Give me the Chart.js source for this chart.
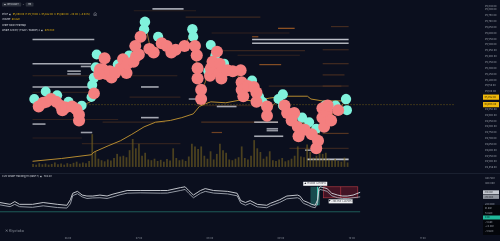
<!DOCTYPE html>
<html>
<head>
<meta charset="utf-8">
<title>Whale Activity</title>
<script src="https://cdn.jsdelivr.net/npm/chart.js@4.4.1/dist/chart.umd.min.js"></script>
<style>
  html, body { margin: 0; padding: 0; background: #0b0f1e; overflow: hidden; }
  #wrap { position: relative; width: 500px; height: 241px; background: #0b0f1e; font-family: Inter, "Noto Sans", sans-serif; }
  canvas { position: absolute; left: 0; }
  #main { top: 0; }
  #lower { top: 174px; }
  .sep { position: absolute; left: 0; top: 173px; width: 500px; height: 1px; background: #1a2030; }
  .t { position: absolute; transform: scale(0.3); transform-origin: 0 0; font-size: 8px; line-height: 10px; color: #d4d7de; white-space: nowrap; }
  .y { color: #f0b90b; }
  .chip { background: #2a2f3b; border-radius: 3px; padding: 2px 8px; }
</style>
</head>
<body>
<div id="wrap">
  <canvas id="main" width="500" height="173"></canvas>
  <div class="sep"></div>
  <canvas id="lower" width="500" height="67"></canvas>

  <div class="t" style="left:2px;top:2.6px"><span class="chip">▣ BTCUSDT</span> &nbsp;⌄&nbsp; <span class="chip">1m</span></div>
  <div class="t" style="left:2px;top:12.6px">Price &nbsp;◉&nbsp; <span class="y">95,090.00 &nbsp;H 95,111.00 &nbsp;L 95,022.00 &nbsp;C 95,060.00 &nbsp;−30.00 &nbsp;(−0.03%)</span> &nbsp; &nbsp; ⊗</div>
  <div class="t" style="left:2px;top:18.2px">Volume &nbsp;<span class="y">60.62K</span></div>
  <div class="t" style="left:2px;top:23.6px">Order Book Heatmap</div>
  <div class="t" style="left:2px;top:29.2px">Whale Activity (TWAP / Bubble) 2 &nbsp;◉&nbsp; <span class="y">670.84K</span></div>
  <div class="t" style="left:2px;top:175px">CVD Whale Tracking 1H (base 7) &nbsp;◉&nbsp; 704.4K</div>
  <div class="t" style="left:5px;top:228.5px;font-size:12px;color:#8c919c">✕ Kiyotaka</div>
</div>

<script>
// time axis is minutes after 05:00
const buyTimes = [4.2, 15.2, 26.2, 37.2, 49.9, 59.2, 60.0, 61.7, 63.4, 64.3, 84.6, 95.6, 110.0, 110.8, 123.5, 156.5, 157.3, 171.7, 174.2, 178.5, 187.0, 214.0, 220.8, 224.2, 239.4, 243.6, 243.6, 262.2, 269.0, 275.8, 284.2, 294.4, 304.5, 305.4];
const buyPrices = [95036, 95100, 95068, 95012, 94980, 95052, 95155, 95219, 95306, 95417, 95330, 95409, 95632, 95695, 95568, 95632, 95568, 95274, 95497, 95409, 95338, 95195, 95052, 95012, 95036, 95076, 94980, 94877, 94838, 94782, 94980, 94980, 95036, 94941];
const buySizes = [520, 480, 540, 500, 470, 450, 510, 560, 530, 490, 520, 500, 550, 600, 540, 580, 520, 480, 500, 470, 520, 490, 510, 470, 500, 540, 480, 520, 500, 490, 510, 520, 560, 500];

const sellTimes = [8.4, 12.7, 16.0, 20.3, 25.3, 29.6, 31.3, 34.7, 40.6, 44.8, 47.3, 47.3, 61.7, 67.6, 66.8, 70.2, 71.9, 73.6, 77.0, 78.6, 82.0, 87.1, 89.6, 93.0, 93.9, 99.8, 102.3, 104.9, 101.5, 106.6, 115.0, 119.2, 126.9, 131.9, 136.2, 140.4, 148.9, 159.0, 160.7, 161.5, 161.5, 164.9, 164.9, 173.4, 174.2, 175.9, 180.2, 182.7, 182.7, 184.4, 190.3, 195.4, 203.0, 203.9, 203.9, 205.5, 209.8, 215.7, 218.2, 218.2, 228.4, 228.4, 245.3, 247.8, 254.6, 252.1, 258.0, 258.8, 264.8, 271.5, 277.5, 275.8, 281.7, 281.7, 283.4, 285.9, 286.8, 290.1, 296.9];
const sellPrices = [94972, 95004, 95012, 95036, 95012, 94980, 94941, 94965, 94972, 94949, 94901, 94853, 95084, 95290, 95250, 95290, 95385, 95250, 95274, 95219, 95258, 95298, 95377, 95258, 95338, 95354, 95401, 95417, 95489, 95568, 95465, 95433, 95512, 95489, 95433, 95457, 95489, 95489, 95409, 95298, 95211, 95115, 95036, 95235, 95298, 95354, 95441, 95338, 95258, 95211, 95282, 95274, 95282, 95179, 95115, 95060, 95147, 95139, 95092, 95012, 94972, 94893, 94980, 94917, 94917, 94853, 94798, 94718, 94774, 94734, 94679, 94615, 94957, 94877, 94798, 94925, 94980, 94853, 94941];
const sellSizes = [860, 900, 820, 880, 910, 870, 930, 850, 890, 900,
  880, 920, 860, 940, 900, 880, 910, 870, 900, 890,
  930, 880, 860, 920, 900, 870, 890, 910, 880, 900,
  870, 920, 890, 860, 900, 880, 910, 870, 930, 900,
  920, 880, 900, 870, 890, 910, 880, 900, 860, 920,
  890, 900, 880, 910, 870, 900, 890, 860, 920, 880,
  900, 870, 890, 910, 880, 900, 870, 930, 880, 900,
  910, 890, 880, 900, 870, 910, 880, 900, 890];

const priceTimes = [2.5, 10, 16, 22, 28, 33, 40, 46, 50, 55, 58, 60, 62, 64, 67, 72, 76, 82, 86, 90, 94, 98, 104, 108, 111, 116, 121, 125, 130, 136, 142, 149, 156, 158, 161, 164, 168, 172, 175, 180, 184, 188, 192, 198, 203, 205, 210, 215, 219, 224, 228, 234, 240, 244, 248, 254, 258, 262, 266, 270, 274, 276, 279, 282, 286, 290, 294, 298, 304, 307];
const priceValues = [95030, 95000, 95050, 95020, 95040, 94960, 94990, 94920, 94960, 95000, 95010, 95060, 95200, 95330, 95280, 95350, 95250, 95260, 95320, 95360, 95300, 95390, 95420, 95580, 95680, 95470, 95440, 95540, 95490, 95440, 95460, 95490, 95610, 95500, 95300, 95080, 95160, 95260, 95420, 95430, 95240, 95330, 95280, 95280, 95180, 95070, 95150, 95150, 95040, 95020, 94920, 94980, 95040, 95020, 94920, 94910, 94760, 94860, 94780, 94820, 94700, 94620, 94760, 94900, 94960, 94860, 94970, 94940, 95030, 94990];

const whaleTimes = [2.5, 30.4, 59.2, 61.7, 76.1, 87.1, 98.1, 109.9, 121.0, 135.3, 146.3, 157.3, 163.2, 169.2, 174.2, 188.6, 203.0, 216.5, 230.9, 245.3, 267.3, 270.7, 281.7, 307.1];
const whaleValues = [94504, 94528, 94560, 94583, 94639, 94679, 94734, 94798, 94838, 94853, 94877, 94909, 94972, 94996, 95012, 95004, 95028, 95020, 95044, 95060, 95060, 95036, 95020, 95020];

const volTimes = [3, 6, 9, 12, 15, 18, 21, 24, 27, 30, 33, 36, 39, 42, 45, 48, 51, 54, 57, 60, 63, 66, 69, 72, 75, 78, 81, 84, 87, 90, 93, 96, 99, 102, 105, 108, 111, 114, 117, 120, 123, 126, 129, 132, 135, 138, 141, 144, 147, 150, 153, 156, 159, 162, 165, 168, 171, 174, 177, 180, 183, 186, 189, 192, 195, 198, 201, 204, 207, 210, 213, 216, 219, 222, 225, 228, 231, 234, 237, 240, 243, 246, 249, 252, 255, 258, 261, 264, 267, 270, 273, 276, 279, 282, 285, 288, 291, 294, 297, 300, 303, 306];
const volValues = [8, 6, 10, 7, 9, 6, 8, 12, 7, 9, 6, 10, 8, 11, 14, 9, 12, 10, 16, 88, 40, 22, 18, 15, 20, 17, 24, 35, 28, 30, 26, 45, 75, 50, 62, 30, 38, 20, 18, 22, 16, 19, 14, 21, 17, 50, 24, 18, 20, 16, 28, 62, 55, 48, 55, 30, 22, 42, 20, 35, 62, 45, 38, 20, 18, 22, 26, 55, 24, 20, 30, 72, 50, 40, 22, 28, 42, 18, 16, 20, 24, 15, 18, 22, 30, 55, 28, 26, 60, 40, 25, 30, 55, 35, 38, 20, 18, 22, 16, 14, 25, 12];

// order book walls (large resting size)
const wallStart = [118, 214, 214, 2.5, 96, 2.5, 49, 36, 36, 2.5, 107, 107, 2.5, 49, 180, 216, 228, 228, 216, 265, 267, 153];
const wallEnd = [148, 307, 307, 62, 104, 59, 70, 49, 49, 57, 124, 124, 15, 60, 199, 239, 239, 239, 244, 273, 307, 161];
const wallPrice = [95806, 95544, 95512, 95544, 95489, 95338, 95314, 95274, 95250, 95139, 95139, 94877, 94822, 94750, 94972, 94838, 94782, 94766, 94718, 94599, 94520, 95036];
const wallDepth = [80, 90, 80, 70, 50, 70, 60, 60, 50, 70, 70, 70, 60, 60, 70, 60, 50, 50, 70, 50, 90, 40];

// heatmap bands
const heatStart = [150, 239, 214, 290, 184, 282, 282, 221, 2.5, 282, 282, 282, 165, 2.5, 96, 2.5, 70, 2.5, 50, 175, 230, 160, 250, 100, 200, 175];
const heatEnd = [222, 255, 220, 307, 265, 307, 307, 242, 142, 303, 307, 307, 239, 60, 145, 85, 130, 50, 145, 250, 300, 220, 307, 160, 260, 185];
const heatPrice = [95735, 95640, 95568, 95655, 95449, 95457, 95338, 95330, 95235, 95242, 95147, 94742, 94838, 95092, 95052, 94861, 94838, 94703, 94655, 95600, 95147, 94980, 94615, 95790, 95410, 94750];
const heatDepth = [24, 70, 60, 28, 22, 24, 28, 60, 20, 28, 24, 36, 32, 16, 18, 18, 20, 16, 18, 18, 20, 16, 22, 16, 18, 50];

const lastPrice = 94988;
const markPrice = 95052;

const cvdTimes = [2.5, 11, 15, 19, 30, 39, 51, 59, 62, 64, 68, 72, 76, 81, 87, 93, 98, 104, 110, 121, 138, 144, 155, 159, 162, 166, 172, 176, 183, 195, 203, 206, 210, 214, 220, 228, 231, 239, 245, 254, 256, 259, 263, 266, 269, 271, 272, 273, 276, 279, 283, 288, 292, 296, 301, 307];
const cvdFast = [217, 200, 226, 200, 200, 217, 200, 191, 243, 304, 322, 287, 278, 278, 287, 278, 296, 313, 330, 330, 330, 330, 357, 365, 330, 287, 330, 348, 330, 322, 304, 235, 217, 235, 200, 191, 209, 243, 278, 287, 278, 235, 217, 200, 191, 243, 348, 365, 357, 348, 304, 287, 278, 278, 287, 313];
const cvdSlow = [195, 178, 200, 178, 172, 186, 170, 165, 205, 282, 300, 270, 255, 260, 262, 255, 270, 290, 305, 308, 305, 306, 330, 340, 305, 262, 304, 322, 306, 298, 280, 212, 192, 210, 176, 168, 185, 218, 252, 262, 252, 210, 192, 176, 168, 215, 322, 340, 332, 322, 280, 262, 255, 254, 262, 270];
const cvdBase = 130;

// measured moves on the CVD pane: [start, end, from, to]
const riseMove = [265, 273, 191, 365];
const dropMove = [276, 305, 365, 261];
const riseText = '▲ 174.00K (+91.10%)';
const dropText = '▼ −104.35K (−28.59%)';

const sideLabels = ['81.88K', '54.88K', '0.00', '−5.88K', '−24.40K', '−51.60K'];

const fmtPrice = (v) => v.toLocaleString('en-US', { minimumFractionDigits: 2, maximumFractionDigits: 2 });
const fmtTime = (m) => String(5 + Math.floor(m / 60)).padStart(2, '0') + ':00';
const tickFont = { family: 'Inter', size: 2.4 };

const segment = (x0, x1, y, color, width, order) => ({
  type: 'line',
  data: [{ x: x0, y: y }, { x: x1, y: y }],
  borderColor: color,
  borderWidth: width,
  pointRadius: 0,
  order: order,
});

const heatSets = heatStart.map((s, i) =>
  segment(s, heatEnd[i], heatPrice[i], `rgba(214,118,40,${heatDepth[i] / 100})`, 1.2, 20));
const wallSets = wallStart.map((s, i) =>
  segment(s, wallEnd[i], wallPrice[i], `rgba(205,208,216,${0.45 + wallDepth[i] / 200})`, 1.6, 15));

const bubbleRadius = (ctx) => 2 + Math.sqrt((ctx.raw && ctx.raw.v) || 800) / 7.5;

const priceTags = {
  id: 'priceTags',
  afterDraw(chart) {
    const { ctx, chartArea } = chart;
    const y = chart.scales.y;
    ctx.save();
    ctx.font = '2.4px Inter';
    ctx.textBaseline = 'middle';
    [markPrice, lastPrice].forEach((v) => {
      const py = y.getPixelForValue(v);
      ctx.fillStyle = '#f0b90b';
      ctx.fillRect(chartArea.right + 1, py - 2.6, 16, 5.2);
      ctx.fillStyle = '#1d1600';
      ctx.fillText(fmtPrice(v), chartArea.right + 2.5, py);
    });
    ctx.restore();
  },
};

new Chart(document.getElementById('main'), {
  type: 'line',
  data: {
    datasets: [
      {
        type: 'bubble',
        data: sellTimes.map((t, i) => ({ x: t, y: sellPrices[i], v: sellSizes[i] })),
        backgroundColor: '#f47f7f',
        borderWidth: 0,
        radius: bubbleRadius,
        order: 1,
      },
      {
        type: 'bubble',
        data: buyTimes.map((t, i) => ({ x: t, y: buyPrices[i], v: buySizes[i] })),
        backgroundColor: '#80f2dc',
        borderWidth: 0,
        radius: bubbleRadius,
        order: 2,
      },
      {
        data: priceTimes.map((t, i) => ({ x: t, y: priceValues[i] })),
        borderColor: 'rgba(242,169,59,0.85)',
        borderWidth: 0.7,
        pointRadius: 0,
        order: 5,
      },
      {
        data: [{ x: 2.5, y: lastPrice }, { x: 410, y: lastPrice }],
        borderColor: 'rgba(240,185,11,0.55)',
        borderWidth: 0.8,
        borderDash: [1, 2],
        pointRadius: 0,
        order: 6,
      },
      {
        data: whaleTimes.map((t, i) => ({ x: t, y: whaleValues[i] })),
        borderColor: '#b48a30',
        borderWidth: 1,
        pointRadius: 0,
        order: 7,
      },
      {
        type: 'bar',
        yAxisID: 'yVol',
        data: volTimes.map((t, i) => ({ x: t, y: volValues[i] })),
        backgroundColor: 'rgba(118,98,32,0.6)',
        barPercentage: 0.7,
        categoryPercentage: 0.8,
        order: 8,
      },
      ...wallSets,
      ...heatSets,
    ],
  },
  options: {
    responsive: false,
    devicePixelRatio: 1,
    animation: false,
    events: [],
    layout: { padding: 0 },
    plugins: { legend: { display: false }, tooltip: { enabled: false } },
    scales: {
      x: { type: 'linear', min: 2.5, max: 410, display: false },
      y: {
        position: 'right',
        min: 94456,
        max: 95830,
        afterFit: (s) => { s.width = 18; },
        grid: { display: false, drawTicks: false },
        border: { display: false },
        ticks: {
          stepSize: 50,
          maxTicksLimit: 100,
          autoSkip: false,
          padding: 3,
          color: '#9ea3ad',
          font: tickFont,
          callback: (v) => fmtPrice(v),
        },
      },
      yVol: { min: 0, max: 432, display: false },
    },
  },
  plugins: [priceTags],
});

const cvdExtras = {
  id: 'cvdExtras',
  beforeDatasetsDraw(chart) {
    const { ctx } = chart;
    const { x, y } = chart.scales;
    ctx.save();
    // rise box
    let x0 = x.getPixelForValue(riseMove[0]), x1 = x.getPixelForValue(riseMove[1]);
    let y0 = y.getPixelForValue(riseMove[3]), y1 = y.getPixelForValue(riseMove[2]);
    ctx.fillStyle = 'rgba(50,190,170,0.35)';
    ctx.fillRect(x0, y0, x1 - x0, y1 - y0);
    ctx.strokeStyle = '#3fd0b8';
    ctx.lineWidth = 1;
    ctx.beginPath();
    ctx.moveTo(x.getPixelForValue(riseMove[1] - 2), y1);
    ctx.lineTo(x.getPixelForValue(riseMove[1] - 2), y0);
    ctx.stroke();
    // drop box
    x0 = x.getPixelForValue(dropMove[0]); x1 = x.getPixelForValue(dropMove[1]);
    y0 = y.getPixelForValue(dropMove[2]); y1 = y.getPixelForValue(dropMove[3]);
    ctx.fillStyle = 'rgba(170,30,50,0.35)';
    ctx.fillRect(x0, y0, x1 - x0, y1 - y0);
    ctx.strokeStyle = 'rgba(230,70,80,0.8)';
    ctx.lineWidth = 0.6;
    ctx.strokeRect(x0, y0, x1 - x0, y1 - y0);
    const xm = x.getPixelForValue((dropMove[0] + dropMove[1]) / 2);
    ctx.beginPath();
    ctx.moveTo(xm, y0);
    ctx.lineTo(xm, y1);
    ctx.stroke();
    ctx.restore();
  },
  afterDraw(chart) {
    const { ctx, chartArea } = chart;
    const { x, y } = chart.scales;
    ctx.save();
    ctx.font = '2.2px Inter';
    ctx.textBaseline = 'middle';
    ctx.textAlign = 'center';
    const tag = (text, cx, cy, w) => {
      ctx.fillStyle = '#f2f3f5';
      ctx.fillRect(cx - w / 2, cy - 2, w, 4);
      ctx.fillStyle = '#1a1d26';
      ctx.fillText(text, cx, cy);
    };
    tag(riseText, x.getPixelForValue((riseMove[0] + riseMove[1]) / 2), y.getPixelForValue(riseMove[3]) - 3, 24);
    tag(dropText, x.getPixelForValue((dropMove[0] + dropMove[1]) / 2), y.getPixelForValue(dropMove[3]) + 3.5, 24);

    // current value tags on the axis
    ctx.textAlign = 'left';
    [[cvdFast[cvdFast.length - 1], '#c5c9d1'], [cvdSlow[cvdSlow.length - 1], '#8f949e']].forEach(([v, c]) => {
      const py = y.getPixelForValue(v);
      ctx.fillStyle = c;
      ctx.fillRect(chartArea.right + 1, py - 2, 16, 4);
      ctx.fillStyle = '#1a1d26';
      ctx.fillText(v.toFixed(2) + 'K', chartArea.right + 2.5, py);
    });

    // sub-pane scale
    ctx.fillStyle = '#04060b';
    ctx.fillRect(chartArea.right + 1, 31, 18, 30);
    sideLabels.forEach((s, i) => {
      const py = 34.5 + i * 4.5;
      if (s === '0.00') {
        ctx.fillStyle = '#1fb89a';
        ctx.fillRect(chartArea.right + 1, py - 2, 17, 4);
        ctx.fillStyle = '#0b0f1e';
      } else {
        ctx.fillStyle = '#9ea3ad';
      }
      ctx.fillText(s, chartArea.right + 3, py);
    });
    ctx.restore();
  },
};

new Chart(document.getElementById('lower'), {
  type: 'line',
  data: {
    datasets: [
      {
        data: cvdTimes.map((t, i) => ({ x: t, y: cvdFast[i] })),
        borderColor: '#d6d9df',
        borderWidth: 0.9,
        pointRadius: 0,
      },
      {
        data: cvdTimes.map((t, i) => ({ x: t, y: cvdSlow[i] })),
        borderColor: '#a3a8b2',
        borderWidth: 0.9,
        pointRadius: 0,
      },
      {
        data: [{ x: 2.5, y: cvdBase }, { x: 307, y: cvdBase }],
        borderColor: '#1f5a58',
        borderWidth: 1,
        pointRadius: 0,
      },
    ],
  },
  options: {
    responsive: false,
    devicePixelRatio: 1,
    animation: false,
    events: [],
    layout: { padding: 0 },
    plugins: { legend: { display: false }, tooltip: { enabled: false } },
    scales: {
      x: {
        type: 'linear',
        min: 2.5,
        max: 410,
        afterFit: (s) => { s.height = 8; },
        grid: { display: false, drawTicks: false },
        border: { display: false },
        ticks: {
          stepSize: 60,
          includeBounds: false,
          autoSkip: false,
          maxRotation: 0,
          padding: 4,
          color: '#8b909c',
          font: tickFont,
          callback: (v) => fmtTime(v),
        },
      },
      y: {
        position: 'right',
        min: -69.6,
        max: 443.5,
        afterFit: (s) => { s.width = 18; },
        grid: { display: false, drawTicks: false },
        border: { display: false },
        ticks: {
          stepSize: 200,
          autoSkip: false,
          padding: 3,
          color: '#9ea3ad',
          font: tickFont,
          callback: (v) => (v >= 100 ? v.toFixed(2) + 'K' : null),
        },
      },
    },
  },
  plugins: [cvdExtras],
});
</script>
</body>
</html>
